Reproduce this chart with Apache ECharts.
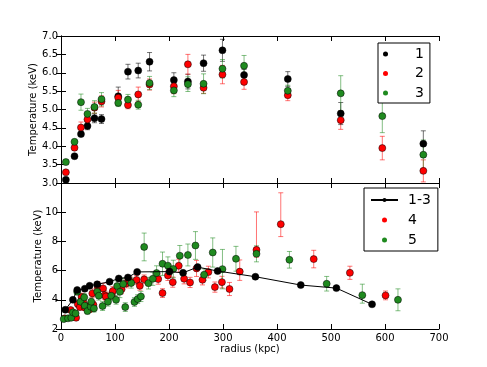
<!DOCTYPE html>
<html>
<head>
<meta charset="utf-8">
<script src="https://cdn.jsdelivr.net/npm/echarts@6/dist/echarts.min.js"></script>
<style>
  html, body { margin: 0; padding: 0; background: #fff; }
  #chart { width: 487px; height: 367px; }
</style>
</head>
<body>
<div id="chart"></div>
<script>
// top panel: profiles 1, 2, 3 (same radii)
const rTop = [9, 25, 37, 49, 62, 75, 106, 124, 143, 164, 209, 235, 264, 299, 339, 420, 518, 595, 671]
const t1 = [3.09, 3.73, 4.33, 4.55, 4.76, 4.74, 5.36, 6.03, 6.06, 6.30, 5.80, 5.76, 6.26, 6.61, 5.94, 5.83, 4.89, null, 4.07]
const e1 = [0.04, 0.05, 0.05, 0.10, 0.12, 0.12, 0.25, 0.20, 0.20, 0.25, 0.20, 0.20, 0.22, 0.30, 0.15, 0.20, 0.30, null, 0.35]
const t2 = [3.29, 3.96, 4.51, 4.73, 5.05, 5.22, 5.32, 5.12, 5.41, 5.68, 5.63, 6.23, 5.59, 5.95, 5.75, 5.39, 4.71, 3.95, 3.33]
const e2 = [0.05, 0.07, 0.15, 0.12, 0.15, 0.15, 0.20, 0.10, 0.20, 0.15, 0.20, 0.27, 0.15, 0.25, 0.20, 0.15, 0.25, 0.32, 0.30]
const t3 = [3.57, 4.12, 5.20, 4.88, 5.07, 5.28, 5.18, 5.27, 5.13, 5.72, 5.52, 5.69, 5.70, 6.11, 6.19, 5.51, 5.44, 4.82, 3.77]
const e3 = [0.07, 0.07, 0.22, 0.15, 0.17, 0.18, 0.10, 0.14, 0.12, 0.18, 0.17, 0.20, 0.27, 0.25, 0.28, 0.15, 0.48, 0.45, 0.40]

// bottom panel: combined 1-3 profile
const rAll = [8, 22, 30, 44, 53, 67, 90, 107, 124, 141, 201, 226, 253, 290, 360, 444, 510, 576]
const tAll = [3.32, 4.00, 4.67, 4.76, 4.96, 5.06, 5.24, 5.46, 5.53, 5.91, 5.93, 5.85, 6.24, 5.97, 5.58, 5.01, 4.80, 3.69]

// bottom panel: profile 4
const r4 = [7, 18, 24, 28, 31, 35, 38, 41, 44, 51, 53, 54, 58, 60, 68, 78, 81, 83, 94, 96, 112, 121, 128, 140, 146, 154, 180, 188, 198, 207, 218, 228, 239, 251, 262, 273, 285, 298, 312, 331, 362, 407, 468, 535, 601]
const t4 = [2.73, 3.30, 2.89, 2.77, 3.71, 3.50, 4.20, 3.87, 3.48, 3.37, 3.35, 3.64, 4.44, 3.66, 4.90, 4.78, 4.32, 4.23, 4.35, 4.60, 4.72, 5.12, 5.26, 5.36, 4.96, 5.40, 5.42, 4.46, 5.67, 5.21, 6.33, 5.44, 5.19, 6.15, 5.37, 5.90, 4.87, 5.21, 4.74, 5.93, 7.42, 9.18, 6.79, 5.85, 4.30]
const lo4 = [0.10, 0.15, 0.15, 0.15, 0.20, 0.20, 0.25, 0.20, 0.20, 0.20, 0.20, 0.25, 0.30, 0.25, 0.35, 0.35, 0.30, 0.30, 0.30, 0.30, 0.30, 0.30, 0.30, 0.30, 0.30, 0.30, 0.35, 0.30, 0.35, 0.35, 0.45, 0.35, 0.35, 0.55, 0.35, 0.40, 0.35, 0.40, 0.45, 0.60, 0.50, 0.85, 0.60, 0.45, 0.30]
const hi4 = [0.10, 0.15, 0.15, 0.15, 0.20, 0.20, 0.25, 0.20, 0.20, 0.20, 0.20, 0.25, 0.30, 0.25, 0.35, 0.35, 0.30, 0.30, 0.30, 0.30, 0.30, 0.30, 0.30, 0.30, 0.30, 0.30, 0.35, 0.30, 0.35, 0.35, 0.45, 0.35, 0.35, 0.55, 0.35, 0.40, 0.35, 0.40, 0.45, 0.80, 2.60, 2.15, 0.60, 0.45, 0.30]

// bottom panel: profile 5
const r5 = [5, 13, 19, 22, 27, 30, 36, 43, 44, 49, 55, 56, 61, 67, 70, 77, 87, 93, 102, 104, 109, 115, 119, 130, 136, 142, 148, 154, 162, 170, 177, 188, 198, 208, 220, 235, 249, 265, 281, 299, 324, 362, 423, 492, 558, 624]
const t5 = [2.68, 2.73, 2.77, 3.14, 3.07, 4.55, 3.87, 4.17, 3.60, 3.23, 3.53, 3.87, 3.41, 4.55, 4.28, 3.57, 3.87, 4.28, 4.00, 4.94, 4.55, 5.08, 3.50, 5.15, 3.85, 4.05, 4.23, 7.62, 5.14, 5.44, 5.83, 6.47, 6.34, 6.11, 7.02, 7.07, 7.72, 5.72, 7.24, 6.10, 6.81, 7.15, 6.74, 5.10, 4.32, 4.00]
const lo5 = [0.10, 0.10, 0.15, 0.15, 0.20, 0.20, 0.20, 0.25, 0.20, 0.20, 0.20, 0.25, 0.25, 0.30, 0.30, 0.30, 0.30, 0.30, 0.30, 0.35, 0.40, 0.40, 0.30, 0.35, 0.30, 0.30, 0.35, 0.95, 0.40, 0.45, 0.50, 0.80, 0.60, 0.60, 0.70, 0.75, 0.95, 0.40, 1.00, 1.35, 0.85, 0.55, 0.57, 0.50, 0.55, 0.75]
const hi5 = [0.10, 0.10, 0.15, 0.15, 0.20, 0.20, 0.20, 0.25, 0.20, 0.20, 0.20, 0.25, 0.25, 0.30, 0.30, 0.30, 0.30, 0.30, 0.30, 0.35, 0.40, 0.40, 0.30, 0.35, 0.30, 0.30, 0.35, 0.95, 0.40, 0.45, 0.50, 0.80, 0.60, 0.60, 0.70, 0.75, 0.95, 0.40, 1.00, 1.35, 0.85, 0.55, 0.57, 0.50, 0.75, 0.75]

const BLACK = '#000000'
const RED = '#ff0000'
const GREEN = '#1f8a1f'
const FONT = 'DejaVu Sans'

const points = (r, t) => r.map((x, i) => [x, t[i]]).filter(p => p[1] != null)
const bars = (r, t, lo, hi) => r.map((x, i) => t[i] == null ? null : [x, t[i], t[i] - lo[i], t[i] + hi[i]]).filter(Boolean)

const renderBar = (color) => (params, api) => {
  const a = api.coord([api.value(0), api.value(2)])
  const b = api.coord([api.value(0), api.value(3)])
  const c = 2.5
  const style = { stroke: color, lineWidth: 1 }
  return {
    type: 'group',
    children: [
      { type: 'line', shape: { x1: a[0], y1: a[1], x2: b[0], y2: b[1] }, style },
      { type: 'line', shape: { x1: a[0] - c, y1: a[1], x2: a[0] + c, y2: a[1] }, style },
      { type: 'line', shape: { x1: b[0] - c, y1: b[1], x2: b[0] + c, y2: b[1] }, style }
    ]
  }
}

const errSeries = (name, data, color, axis) => ({
  name: name,
  type: 'custom',
  xAxisIndex: axis,
  yAxisIndex: axis,
  renderItem: renderBar(color),
  encode: { x: 0, y: [1, 2, 3] },
  data: data,
  silent: true
})

const dotSeries = (name, data, color, axis) => ({
  name: name,
  type: 'scatter',
  xAxisIndex: axis,
  yAxisIndex: axis,
  symbol: 'circle',
  symbolSize: 7,
  itemStyle: { color: color, borderColor: '#000', borderWidth: 0.5, opacity: 1 },
  data: data
})

const tickLabel = { color: '#000', fontFamily: FONT, fontSize: 10 }
const frameLine = { show: true, lineStyle: { color: '#000', width: 1 } }
const inTick = { show: true, inside: true, length: 5, lineStyle: { color: '#000' } }

const xAx = (grid, pos, labels) => ({
  type: 'value', gridIndex: grid, position: pos, min: 0, max: 700, interval: 100,
  axisLine: frameLine, axisTick: inTick, splitLine: { show: false },
  axisLabel: labels ? Object.assign({ margin: 4 }, tickLabel) : { show: false },
  name: labels ? 'radius (kpc)' : '',
  nameLocation: 'middle', nameGap: 15, nameMoveOverlap: false,
  nameTextStyle: { color: '#000', fontFamily: FONT, fontSize: 10, verticalAlign: 'top' }
})

const yAx = (grid, pos, min, max, step, fmt, gap) => ({
  type: 'value', gridIndex: grid, position: pos, min: min, max: max, interval: step,
  axisLine: frameLine, axisTick: inTick, splitLine: { show: false },
  axisLabel: fmt ? Object.assign({ margin: 3, formatter: fmt }, tickLabel) : { show: false },
  name: fmt ? 'Temperature (keV)' : '',
  nameLocation: 'middle', nameGap: gap || 0, nameRotate: 90, nameMoveOverlap: false,
  nameTextStyle: { color: '#000', fontFamily: FONT, fontSize: 10 }
})

const legendBox = {
  orient: 'vertical', itemWidth: 27, itemHeight: 5,
  backgroundColor: '#fff', borderColor: '#000', borderWidth: 1, borderRadius: 0,
  itemStyle: { borderWidth: 0 },
  selectedMode: false
}

const chart = echarts.init(document.getElementById('chart'), null, { renderer: 'canvas' })

chart.setOption({
  backgroundColor: '#fff',
  animation: false,
  grid: [
    { left: 61, top: 36, width: 378, height: 147 },
    { left: 61, top: 183, width: 378, height: 146 }
  ],
  xAxis: [
    xAx(0, 'bottom', false),
    xAx(1, 'bottom', true),
    xAx(0, 'top', false),
    xAx(1, 'top', false)
  ],
  yAxis: [
    yAx(0, 'left', 3, 7, 0.5, v => v.toFixed(1), 23),
    yAx(1, 'left', 2, 12, 2, v => (v === 12 ? '' : String(v)), 18),
    yAx(0, 'right', 3, 7, 0.5, null),
    yAx(1, 'right', 2, 12, 2, null)
  ],
  legend: [
    Object.assign({}, legendBox, {
      data: ['1', '2', '3'],
      left: 378, top: 43,
      padding: [4, 6, 3, 5], itemGap: 5.5,
      textStyle: { color: '#000', fontFamily: FONT, fontSize: 14, lineHeight: 14, padding: [0, 0, 0, 11] }
    }),
    Object.assign({}, legendBox, {
      data: ['1-3', '4', '5'],
      left: 364, top: 188,
      padding: [5, 7, 4, 6], itemGap: 6,
      textStyle: { color: '#000', fontFamily: FONT, fontSize: 14, lineHeight: 14, padding: [0, 0, 0, 5] }
    })
  ],
  series: [
    errSeries('e1', bars(rTop, t1, e1, e1), 'rgba(0,0,0,0.55)', 0),
    dotSeries('1', points(rTop, t1), BLACK, 0),
    errSeries('e2', bars(rTop, t2, e2, e2), 'rgba(255,0,0,0.55)', 0),
    dotSeries('2', points(rTop, t2), RED, 0),
    errSeries('e3', bars(rTop, t3, e3, e3), 'rgba(31,138,31,0.55)', 0),
    dotSeries('3', points(rTop, t3), GREEN, 0),
    {
      name: '1-3',
      type: 'line',
      xAxisIndex: 1,
      yAxisIndex: 1,
      symbol: 'circle',
      symbolSize: 7,
      showSymbol: true,
      lineStyle: { color: BLACK, width: 1 },
      itemStyle: { color: BLACK, borderColor: '#000', borderWidth: 0.5 },
      data: points(rAll, tAll)
    },
    errSeries('e4', bars(r4, t4, lo4, hi4), 'rgba(255,0,0,0.55)', 1),
    dotSeries('4', points(r4, t4), RED, 1),
    errSeries('e5', bars(r5, t5, lo5, hi5), 'rgba(31,138,31,0.55)', 1),
    dotSeries('5', points(r5, t5), GREEN, 1)
  ]
})

window.addEventListener('resize', () => chart.resize())
</script>
</body>
</html>
